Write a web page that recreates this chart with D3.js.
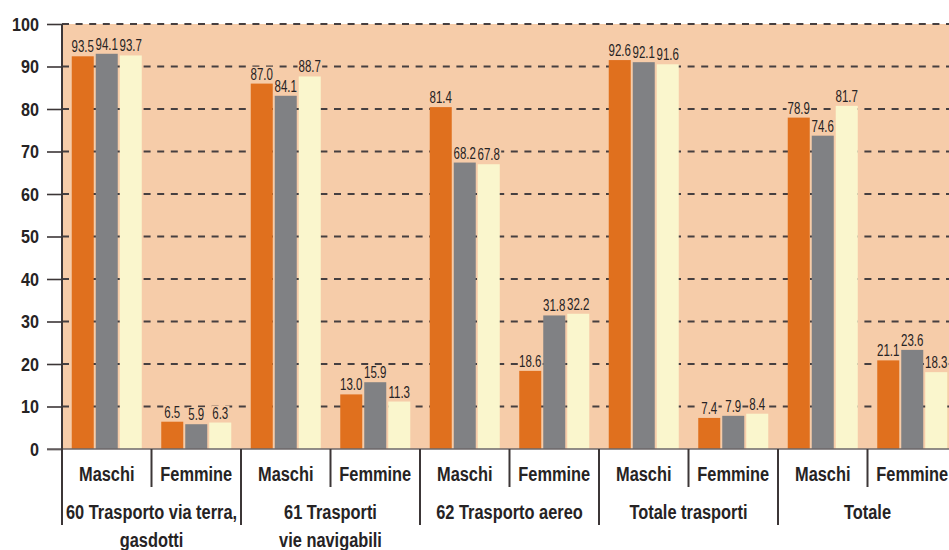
<!DOCTYPE html>
<html lang="it">
  <head>
    <meta charset="UTF-8" />
    <title>Trasporti - Maschi / Femmine</title>
    <style>
      body {
        margin: 0;
        background: #fff;
      }
      svg text {
        font-family: 'Liberation Sans', Arial, sans-serif;
        fill: #262324;
      }
      .tick-label {
        font-weight: bold;
        font-size: 19px;
      }
      .sub-label,
      .group-label {
        font-weight: bold;
        font-size: 21px;
      }
      .value-label {
        font-size: 16px;
      }
    </style>
  </head>
  <body>
    <svg width="949" height="550"></svg>
    <script src="https://cdn.jsdelivr.net/npm/d3@7"></script>
    <script>
      // gruppi (due righe per etichetta) e sottocategorie
      const groups = [
        ['60 Trasporto via terra,', 'gasdotti'],
        ['61 Trasporti', 'vie navigabili'],
        ['62 Trasporto aereo'],
        ['Totale trasporti'],
        ['Totale']
      ];
      const subs = ['Maschi', 'Femmine'];

      // valori per serie, ordine: gruppo x (Maschi, Femmine)
      const serieArancio = [93.5, 6.5, 87.0, 13.0, 81.4, 18.6, 92.6, 7.4, 78.9, 21.1];
      const serieGrigio = [94.1, 5.9, 84.1, 15.9, 68.2, 31.8, 92.1, 7.9, 74.6, 23.6];
      const serieCrema = [93.7, 6.3, 88.7, 11.3, 67.8, 32.2, 91.6, 8.4, 81.7, 18.3];
      const yTicks = [0, 10, 20, 30, 40, 50, 60, 70, 80, 90, 100];

      const series = [
        { key: 'a', values: serieArancio, color: '#e0701e' },
        { key: 'b', values: serieGrigio, color: '#808184' },
        { key: 'c', values: serieCrema, color: '#faf6cd' }
      ];
      const plotBg = '#f6cca9';

      const plotLeft = 62,
        plotTop = 24,
        plotBottom = 449,
        groupW = 179;

      // il font originale e' condensato: stringo il testo in orizzontale
      const narrowBold = 0.78,
        narrowValue = 0.72;

      const svg = d3.select('svg');

      const x0 = d3
        .scaleBand()
        .domain(groups.map((g, i) => i))
        .range([plotLeft, plotLeft + groups.length * groupW]);
      const x1 = d3.scaleBand().domain(subs).range([0, groupW]);
      const x2 = d3
        .scaleBand()
        .domain(series.map((s) => s.key))
        .range([9.75, 79.75])
        .paddingInner(2 / 24);
      const y = d3.scaleLinear().domain([0, 100]).range([plotBottom, plotTop]);
      // nell'originale le barre sono un po' piu' basse della griglia
      const yBar = d3.scaleLinear().domain([0, 100]).range([plotBottom, 29]);

      function narrowText(sel, x, yy, sx) {
        return sel
          .attr('x', 0)
          .attr('y', 0)
          .attr('transform', 'translate(' + x + ',' + yy + ') scale(' + sx + ',1)');
      }

      // sfondo area grafico
      svg
        .append('rect')
        .attr('x', plotLeft)
        .attr('y', plotTop)
        .attr('width', 949 - plotLeft)
        .attr('height', plotBottom - plotTop)
        .attr('fill', plotBg);

      // griglia tratteggiata
      svg
        .append('g')
        .selectAll('line')
        .data(yTicks.filter((d) => d > 0))
        .enter()
        .append('line')
        .attr('x1', plotLeft)
        .attr('x2', 949)
        .attr('y1', (d) => y(d))
        .attr('y2', (d) => y(d))
        .attr('stroke', '#463f40')
        .attr('stroke-width', 1.8)
        .attr('stroke-dasharray', '7,6.6');

      // asse y
      const yAxis = svg
        .append('g')
        .attr('transform', 'translate(' + plotLeft + ',0)')
        .call(d3.axisLeft(y).tickValues(yTicks).tickSize(15).tickPadding(8));
      yAxis.attr('font-family', null).attr('font-size', null);
      yAxis.select('.domain').remove();
      yAxis.selectAll('line').attr('stroke', '#3c3637').attr('stroke-width', 1.6);
      yAxis
        .selectAll('text')
        .attr('class', 'tick-label')
        .attr('fill', null)
        .attr('x', 0)
        .attr('transform', 'translate(-23,0) scale(0.85,1)');

      // dati piatti
      const flat = [];
      groups.forEach((g, gi) => {
        subs.forEach((s, si) => {
          series.forEach((ser) => {
            flat.push({
              g: gi,
              sub: s,
              key: ser.key,
              color: ser.color,
              value: ser.values[gi * subs.length + si]
            });
          });
        });
      });
      const barX = (d) => x0(d.g) + x1(d.sub) + x2(d.key);

      // sfondo etichette (copre la griglia, sta sotto le barre)
      const labelBg = svg.append('g');

      // barre
      svg
        .append('g')
        .selectAll('rect')
        .data(flat)
        .enter()
        .append('rect')
        .attr('x', barX)
        .attr('y', (d) => yBar(d.value))
        .attr('width', x2.bandwidth())
        .attr('height', (d) => plotBottom - yBar(d.value))
        .attr('fill', (d) => d.color);

      // etichette valori
      svg
        .append('g')
        .selectAll('text')
        .data(flat)
        .enter()
        .append('text')
        .attr('class', 'value-label')
        .attr('text-anchor', 'middle')
        .text((d) => d.value.toFixed(1))
        .each(function (d) {
          const cx = barX(d) + x2.bandwidth() / 2,
            cy = yBar(d.value) - 4;
          narrowText(d3.select(this), cx, cy, narrowValue);
          const b = this.getBBox();
          labelBg
            .append('rect')
            .attr('x', cx + b.x * narrowValue - 1)
            .attr('y', cy + b.y + 2)
            .attr('width', b.width * narrowValue + 2)
            .attr('height', b.height - 4)
            .attr('fill', plotBg);
        });

      // linea base e asse verticale
      svg
        .append('line')
        .attr('x1', 47)
        .attr('x2', 949)
        .attr('y1', plotBottom)
        .attr('y2', plotBottom)
        .attr('stroke', '#6d6768')
        .attr('stroke-width', 1.6);
      svg
        .append('line')
        .attr('x1', plotLeft)
        .attr('x2', plotLeft)
        .attr('y1', plotTop)
        .attr('y2', 525)
        .attr('stroke', '#3c3637')
        .attr('stroke-width', 2);

      // separatori sotto l'asse
      const sep = svg.append('g').attr('stroke', '#3c3637').attr('stroke-width', 2);
      groups.forEach((g, gi) => {
        sep
          .append('line')
          .attr('x1', x0(gi) + x1('Femmine'))
          .attr('x2', x0(gi) + x1('Femmine'))
          .attr('y1', plotBottom)
          .attr('y2', 487);
        sep
          .append('line')
          .attr('x1', x0(gi) + groupW)
          .attr('x2', x0(gi) + groupW)
          .attr('y1', plotBottom)
          .attr('y2', 525);
      });

      // etichette sottocategorie e gruppi
      groups.forEach((g, gi) => {
        subs.forEach((s) => {
          narrowText(
            svg.append('text').attr('class', 'sub-label').attr('text-anchor', 'middle').text(s),
            x0(gi) + x1(s) + x1.bandwidth() / 2,
            481,
            narrowBold
          );
        });
        g.forEach((line, li) => {
          narrowText(
            svg.append('text').attr('class', 'group-label').attr('text-anchor', 'middle').text(line),
            x0(gi) + groupW / 2,
            519 + li * 28,
            narrowBold
          );
        });
      });
    </script>
  </body>
</html>
